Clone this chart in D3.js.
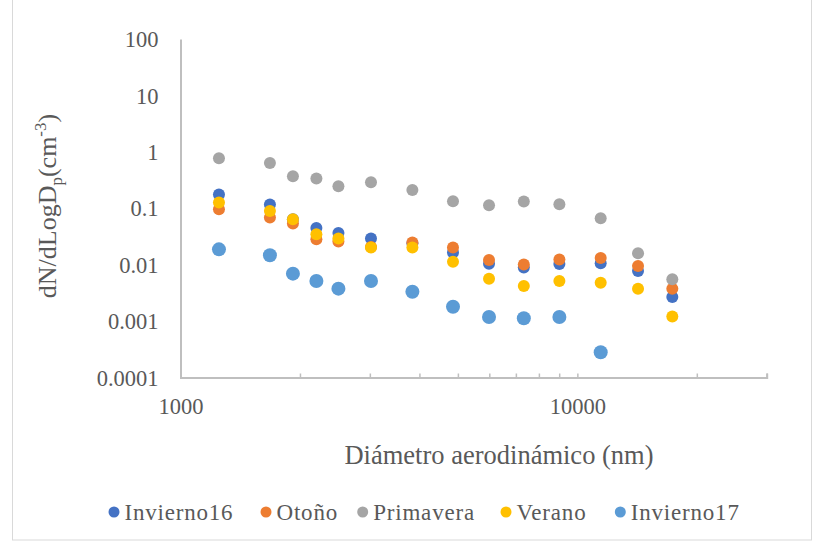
<!DOCTYPE html>
<html>
<head>
<meta charset="utf-8">
<script src="https://cdn.jsdelivr.net/npm/d3@7"></script>
<style>
  html, body { margin: 0; padding: 0; background: #fff; }
  svg { display: block; }
  text { font-family: "Liberation Serif", "Times New Roman", serif; fill: #595959; }
</style>
</head>
<body>
<svg id="chart" width="815" height="544"></svg>
<script>
// Aerodynamic diameter of each size class (nm)
const diameters = [1250, 1680, 1920, 2200, 2500, 3020, 3840, 4860, 5990, 7330, 9010, 11450, 14220, 17350];

// dN/dLogDp (cm^-3) per season
const invierno16 = [0.175, 0.116, 0.064, 0.0447, 0.0365, 0.029, 0.0239, 0.0164, 0.0104, 0.0089, 0.0103, 0.0106, 0.0077, 0.00267];
const otono      = [0.096, 0.0684, 0.0535, 0.0282, 0.0257, 0.0205, 0.0246, 0.0201, 0.0121, 0.0101, 0.0124, 0.0131, 0.0095, 0.00376];
const primavera  = [0.773, 0.637, 0.370, 0.337, 0.246, 0.290, 0.211, 0.133, 0.113, 0.132, 0.118, 0.0665, 0.0159, 0.0055];
const verano     = [0.126, 0.0897, 0.0638, 0.0346, 0.029, 0.0201, 0.0201, 0.0113, 0.00565, 0.00418, 0.00513, 0.0048, 0.00376, 0.0012];
const invierno17 = [0.0187, 0.01465, 0.00693, 0.00513, 0.00376, 0.00513, 0.00332, 0.0018, 0.00118, 0.00112, 0.00118, 0.00028];

const seriesNames = ["Invierno16", "Otoño", "Primavera", "Verano", "Invierno17"];
const seriesColors = ["#4472C4", "#ED7D31", "#A5A5A5", "#FFC000", "#5B9BD5"];
const seriesRadius = [6, 6, 6, 6, 7];
const seriesValues = [invierno16, otono, primavera, verano, invierno17];

const yTickValues = [100, 10, 1, 0.1, 0.01, 0.001, 0.0001];
const xTickLabels = [1000, 10000];

const svg = d3.select("#chart");

// Chart area frame
svg.append("rect")
  .attr("x", 12.5).attr("y", -5)
  .attr("width", 799).attr("height", 545)
  .attr("fill", "none").attr("stroke", "#d9d9d9").attr("stroke-width", 1);

const x = d3.scaleLog().domain([1000, 30000]).range([180.5, 766.7]);
const y = d3.scaleLog().domain([0.0001, 100]).range([377.5, 39]);

const axisColor = "#bfbfbf";

// Y axis: line with labels, no tick marks
const yAxis = svg.append("g")
  .attr("transform", `translate(${x.range()[0]},0)`)
  .call(d3.axisLeft(y).tickValues(yTickValues).tickSize(0).tickPadding(22)
    .tickFormat(d => String(d)));
yAxis.select(".domain").attr("stroke", axisColor).attr("stroke-width", 2);
yAxis.selectAll("text")
  .style("font-family", "'Liberation Serif', 'Times New Roman', serif")
  .attr("font-size", 22.5).attr("fill", "#595959").attr("dy", "0.34em");

// X axis: minor ticks pointing into the plot, labels on decades
const minorTicks = [];
for (let d = 1000; d <= 30000; ) {
  minorTicks.push(d);
  const step = Math.pow(10, Math.floor(Math.log10(d) + 1e-9));
  d += step;
}
const xAxis = svg.append("g")
  .attr("transform", `translate(0,${y.range()[0]})`)
  .call(d3.axisBottom(x).tickValues(minorTicks).tickSizeInner(-4).tickSizeOuter(-4)
    .tickFormat(d => xTickLabels.includes(d) ? String(d) : ""));
xAxis.select(".domain").attr("stroke", axisColor).attr("stroke-width", 2);
xAxis.selectAll(".tick line").attr("stroke", axisColor).attr("stroke-width", 1.5);
xAxis.selectAll(".tick text")
  .style("font-family", "'Liberation Serif', 'Times New Roman', serif")
  .attr("font-size", 22.5).attr("fill", "#595959")
  .attr("y", 0).attr("dy", 36.5);

// Data points
seriesValues.forEach((vals, i) => {
  svg.append("g")
    .selectAll("circle")
    .data(vals.map((v, j) => ({ d: diameters[j], v })))
    .join("circle")
    .attr("cx", p => x(p.d))
    .attr("cy", p => y(p.v))
    .attr("r", seriesRadius[i])
    .attr("fill", seriesColors[i]);
});

// Axis titles
svg.append("text")
  .attr("x", 499).attr("y", 464)
  .attr("text-anchor", "middle")
  .attr("font-size", 26.5)
  .text("Diámetro aerodinámico (nm)");

const yTitle = svg.append("text")
  .attr("transform", "translate(56,206) rotate(-90)")
  .attr("text-anchor", "middle")
  .attr("font-size", 26);
yTitle.append("tspan").text("dN/dLogD");
yTitle.append("tspan").attr("font-size", 17).attr("dy", 6).text("p");
yTitle.append("tspan").attr("dy", -6).text("(cm");
yTitle.append("tspan").attr("font-size", 17).attr("dy", -10).text("-3");
yTitle.append("tspan").attr("dy", 10).text(")");

// Legend
const legendX = [114, 266, 362.7, 506, 620.3];
const legend = svg.append("g");
seriesNames.forEach((name, i) => {
  legend.append("circle")
    .attr("cx", legendX[i]).attr("cy", 512)
    .attr("r", 5.5).attr("fill", seriesColors[i]);
  legend.append("text")
    .attr("x", legendX[i] + 10.5).attr("y", 520)
    .attr("font-size", 23)
    .attr("letter-spacing", 0.8)
    .text(name);
});
</script>
</body>
</html>
